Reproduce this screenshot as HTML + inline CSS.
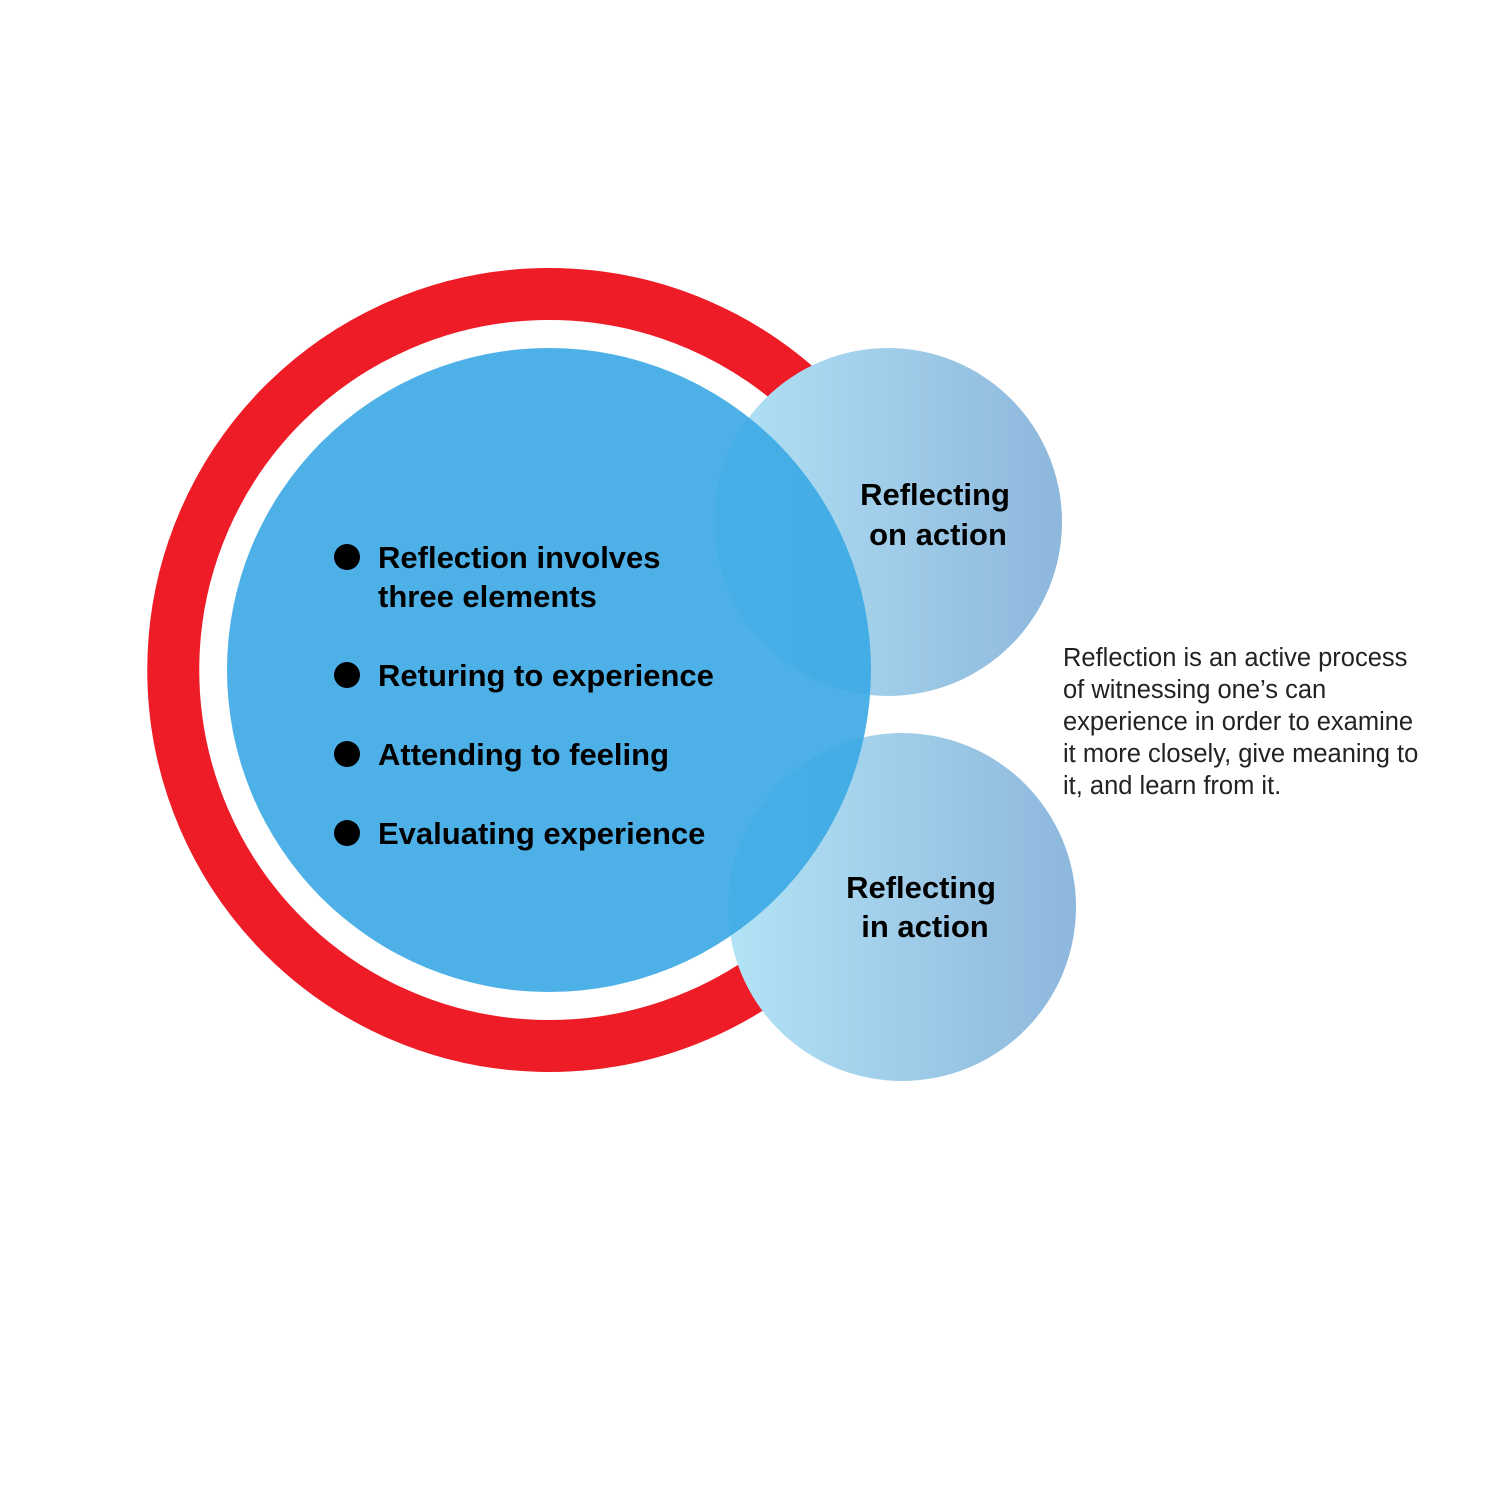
<!DOCTYPE html>
<html><head><meta charset="utf-8"><style>
html,body{margin:0;padding:0;background:#fff;}
body{width:1500px;height:1500px;overflow:hidden;}
text{font-family:"Liberation Sans",Arial,sans-serif;}
</style></head><body>
<svg width="1500" height="1500" viewBox="0 0 1500 1500" xmlns="http://www.w3.org/2000/svg">
<defs>
<linearGradient id="g" x1="0" y1="0" x2="1" y2="0">
<stop offset="0" stop-color="#b2e3f6"/>
<stop offset="1" stop-color="#8db7dc"/>
</linearGradient>
</defs>
<path d="M 815 404 A 376 376 0 1 0 815 936" fill="none" stroke="#ed1c27" stroke-width="52"/>
<circle cx="888" cy="522" r="174" fill="url(#g)"/>
<circle cx="902" cy="907" r="174" fill="url(#g)"/>
<circle cx="549" cy="670" r="322" fill="#3aa8e4" fill-opacity="0.9"/>
<g font-weight="bold" font-size="31" fill="#000">
<circle cx="347" cy="557" r="13"/>
<text x="378" y="568">Reflection involves</text>
<text x="378" y="607">three elements</text>
<circle cx="347" cy="675" r="13"/>
<text x="378" y="686">Returing to experience</text>
<circle cx="347" cy="754" r="13"/>
<text x="378" y="765">Attending to feeling</text>
<circle cx="347" cy="833" r="13"/>
<text x="378" y="844">Evaluating experience</text>
<text x="935" y="505" text-anchor="middle">Reflecting</text>
<text x="938" y="545" text-anchor="middle">on action</text>
<text x="921" y="898" text-anchor="middle">Reflecting</text>
<text x="925" y="937" text-anchor="middle">in action</text>
</g>
<g font-size="25.5" fill="#222">
<text x="1063" y="666">Reflection is an active process</text>
<text x="1063" y="698">of witnessing one’s can</text>
<text x="1063" y="730">experience in order to examine</text>
<text x="1063" y="762">it more closely, give meaning to</text>
<text x="1063" y="794">it, and learn from it.</text>
</g>
</svg>
</body></html>
